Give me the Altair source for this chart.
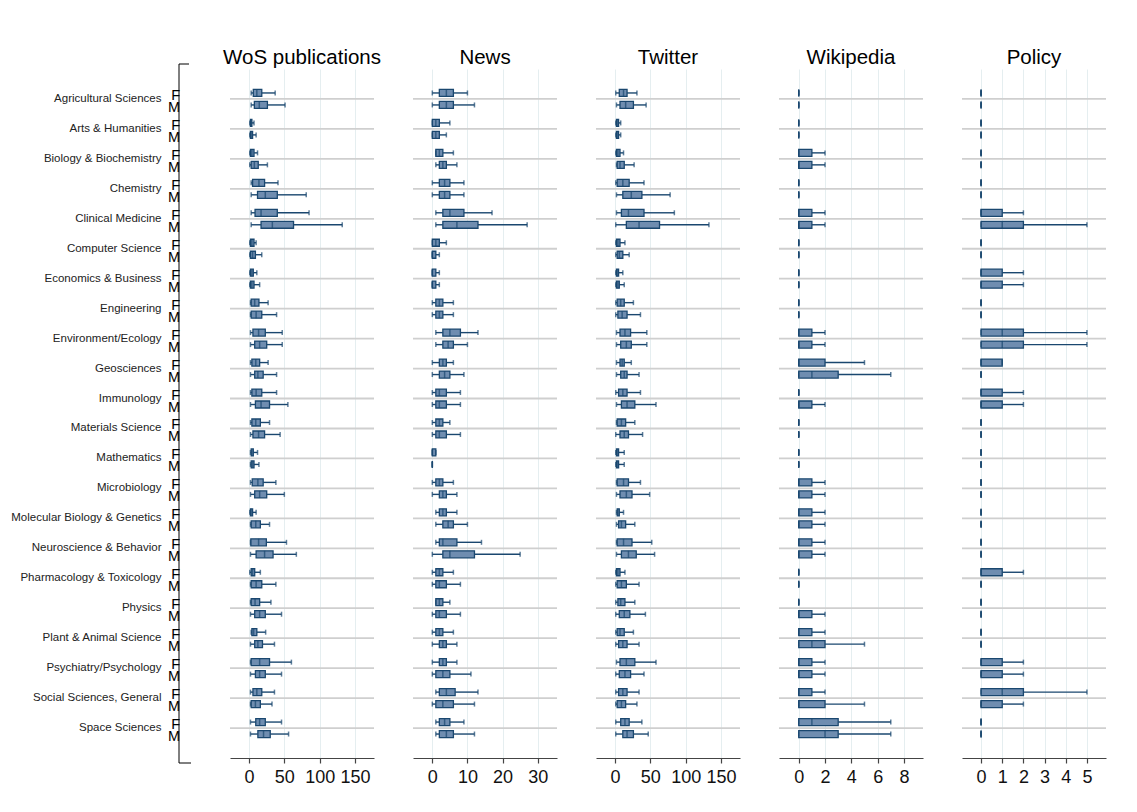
import altair as alt
import pandas as pd

fields = ["Agricultural Sciences", "Arts & Humanities", "Biology & Biochemistry", "Chemistry",
          "Clinical Medicine", "Computer Science", "Economics & Business", "Engineering",
          "Environment/Ecology", "Geosciences", "Immunology", "Materials Science", "Mathematics",
          "Microbiology", "Molecular Biology & Genetics", "Neuroscience & Behavior",
          "Pharmacology & Toxicology", "Physics", "Plant & Animal Science",
          "Psychiatry/Psychology", "Social Sciences, General", "Space Sciences"]
genders = ["F", "M"]
panel_titles = ["WoS publications", "News", "Twitter", "Wikipedia", "Policy"]

# (lower adjacent, q1, median, q3, upper adjacent); per field: F then M
WOS = [
    (3, 6, 11, 18, 37), (3, 7.5, 14.5, 26, 51),
    (1, 2, 3, 4, 7), (1, 2, 3, 5, 10),
    (1, 2, 4, 7, 12), (1, 3, 7.5, 13, 26),
    (3, 5, 14, 22, 41), (3, 12, 23, 40, 81),
    (3, 8.5, 17, 40, 85), (3, 17, 33, 63, 132),
    (1, 2, 4, 7, 10), (1, 2, 5, 9, 18),
    (1, 2, 4, 6, 11), (1, 2, 4, 7, 15),
    (2, 3, 8, 14, 27), (2, 3, 10, 18, 39),
    (2, 5.5, 13.5, 23, 47), (2, 8, 15, 25, 47),
    (2, 4, 9.5, 15, 27), (2, 8, 12.5, 20, 39),
    (2, 4, 10, 18, 39), (2, 9, 17, 29, 55),
    (2, 4, 9.5, 16, 29), (2, 5.5, 13.5, 22, 44),
    (2, 3, 4, 6, 12), (2, 3, 5, 7, 14),
    (2, 4.5, 12.5, 20, 38), (2, 8, 15, 25, 50),
    (1, 2, 3, 5, 10), (2, 3, 9.5, 16, 29),
    (2, 2.5, 13.5, 24.5, 53), (2, 10, 22, 34, 67),
    (1, 3, 5, 8, 16), (2, 3, 10, 18, 38),
    (2, 3, 8.5, 15, 31), (2, 8, 15, 23, 46),
    (3, 4, 6.5, 11, 23.5), (2, 8, 12.5, 19, 36),
    (2, 3, 15, 29, 60), (2, 9, 15, 23, 46),
    (2, 5.5, 11, 18, 36), (2, 3, 9, 16, 32.5),
    (2, 9.5, 15, 23, 46), (2, 12.5, 20.5, 30, 56),
]
NEWS = [
    (0, 2, 4, 6, 10), (0, 2, 4, 6, 12),
    (0, 0, 1, 2, 5), (0, 0, 1, 2, 4),
    (1, 1, 2, 3, 6), (1, 2, 3, 4, 7),
    (0, 2, 3.5, 5, 9), (0, 2, 3.5, 5, 9),
    (1, 3, 5, 9, 17), (1, 3, 7, 13, 27),
    (0, 0, 1, 2, 4), (0, 0, 0, 1, 2),
    (0, 0, 0, 1, 2), (0, 0, 0, 1, 2),
    (0, 1, 2, 3, 6), (0, 1, 2, 3, 6),
    (1, 3, 5, 8, 13), (1, 3, 4.5, 6, 10),
    (0, 2, 3, 4, 6), (0, 2, 3.5, 5, 9),
    (0, 1, 2, 4, 8), (0, 1, 2, 4, 8),
    (0, 1, 2, 3, 5), (0, 1, 2, 4, 8),
    (0, 0, 0, 1, 1), (0, 0, 0, 0, 0),
    (0, 1, 2, 3, 6), (0, 2, 3, 4, 7),
    (1, 2, 3, 4, 7), (1, 3, 4.5, 6, 10),
    (1, 2, 3, 7, 14), (0, 3, 5, 12, 25),
    (0, 1, 2, 3, 6), (0, 1, 2, 4, 8),
    (1, 1, 2, 3, 5), (0, 1, 2, 4, 8),
    (0, 1, 2, 3, 6), (0, 2, 3, 4, 7),
    (0, 2, 3, 4, 7), (0, 1, 3, 5, 11),
    (1, 2, 4, 6.5, 13), (0, 1, 3, 6, 12),
    (1, 2, 3.5, 5, 9), (1, 2, 4, 6, 12),
]
TWITTER = [
    (1, 6, 12, 17, 31), (2, 7, 15, 26, 44),
    (1, 2, 3, 5, 8), (1, 2, 3, 5, 8),
    (1, 2, 4, 7, 12), (2, 3, 7, 13, 27),
    (1, 3, 11, 20, 41), (2, 11, 23, 38, 78),
    (2, 9, 19, 41, 84), (1, 16, 34, 63, 133),
    (1, 2, 4, 7, 14), (1, 3, 6, 11, 20),
    (1, 2, 3, 5, 11), (1, 2, 4, 6, 13),
    (1, 3, 8, 13, 26), (1, 4, 10, 17, 36),
    (2, 7, 14, 22, 45), (2, 8, 16, 23, 45),
    (2, 7, 10, 13, 23), (2, 8, 13, 17, 34),
    (1, 5, 11, 17, 36), (2, 9, 17, 28, 58),
    (2, 3, 9, 15, 28), (1, 7, 13, 19, 39),
    (1, 2, 3, 5, 13), (1, 2, 3, 5, 13),
    (2, 3, 12, 19, 36), (2, 7, 16, 24, 49),
    (2, 3, 4, 6, 12), (2, 5, 9, 15, 28),
    (2, 3, 12, 24, 52), (2, 9, 19, 30, 56),
    (1, 2, 4, 7, 14), (1, 3, 9, 16, 34),
    (1, 4, 8, 14, 28), (1, 6, 13, 21, 43),
    (1, 3, 7, 13, 26), (1, 5, 11, 17, 34),
    (2, 7, 16, 28, 58), (1, 6, 14, 22, 41),
    (1, 5, 11, 17, 34), (1, 3, 9, 15, 31),
    (1, 8, 14, 20, 38), (1, 11, 17, 26, 47),
]
WIKI = [
    (0, 0, 0, 0, 0), (0, 0, 0, 0, 0),
    (0, 0, 0, 0, 0), (0, 0, 0, 0, 0),
    (0, 0, 0, 1, 2), (0, 0, 0, 1, 2),
    (0, 0, 0, 0, 0), (0, 0, 0, 0, 0),
    (0, 0, 0, 1, 2), (0, 0, 0, 1, 2),
    (0, 0, 0, 0, 0), (0, 0, 0, 0, 0),
    (0, 0, 0, 0, 0), (0, 0, 0, 0, 0),
    (0, 0, 0, 0, 0), (0, 0, 0, 0, 0),
    (0, 0, 0, 1, 2), (0, 0, 0, 1, 2),
    (0, 0, 0, 2, 5), (0, 0, 1, 3, 7),
    (0, 0, 0, 0, 0), (0, 0, 0, 1, 2),
    (0, 0, 0, 0, 0), (0, 0, 0, 0, 0),
    (0, 0, 0, 0, 0), (0, 0, 0, 0, 0),
    (0, 0, 0, 1, 2), (0, 0, 0, 1, 2),
    (0, 0, 0, 1, 2), (0, 0, 0, 1, 2),
    (0, 0, 0, 1, 2), (0, 0, 0, 1, 2),
    (0, 0, 0, 0, 0), (0, 0, 0, 0, 0),
    (0, 0, 0, 0, 0), (0, 0, 0, 1, 2),
    (0, 0, 0, 1, 2), (0, 0, 1, 2, 5),
    (0, 0, 0, 1, 2), (0, 0, 0, 1, 2),
    (0, 0, 0, 1, 2), (0, 0, 0, 2, 5),
    (0, 0, 1, 3, 7), (0, 0, 2, 3, 7),
]
POLICY = [
    (0, 0, 0, 0, 0), (0, 0, 0, 0, 0),
    (0, 0, 0, 0, 0), (0, 0, 0, 0, 0),
    (0, 0, 0, 0, 0), (0, 0, 0, 0, 0),
    (0, 0, 0, 0, 0), (0, 0, 0, 0, 0),
    (0, 0, 0, 1, 2), (0, 0, 1, 2, 5),
    (0, 0, 0, 0, 0), (0, 0, 0, 0, 0),
    (0, 0, 0, 1, 2), (0, 0, 0, 1, 2),
    (0, 0, 0, 0, 0), (0, 0, 0, 0, 0),
    (0, 0, 1, 2, 5), (0, 0, 1, 2, 5),
    (0, 0, 0, 1, 1), (0, 0, 0, 0, 0),
    (0, 0, 0, 1, 2), (0, 0, 0, 1, 2),
    (0, 0, 0, 0, 0), (0, 0, 0, 0, 0),
    (0, 0, 0, 0, 0), (0, 0, 0, 0, 0),
    (0, 0, 0, 0, 0), (0, 0, 0, 0, 0),
    (0, 0, 0, 0, 0), (0, 0, 0, 0, 0),
    (0, 0, 0, 0, 0), (0, 0, 0, 0, 0),
    (0, 0, 0, 1, 2), (0, 0, 0, 0, 0),
    (0, 0, 0, 0, 0), (0, 0, 0, 0, 0),
    (0, 0, 0, 0, 0), (0, 0, 0, 0, 0),
    (0, 0, 0, 1, 2), (0, 0, 0, 1, 2),
    (0, 0, 1, 2, 5), (0, 0, 0, 1, 2),
    (0, 0, 0, 0, 0), (0, 0, 0, 0, 0),
]
x_domains = [[-27, 177], [-5.5, 35.5], [-27, 177], [-1.5, 9.45], [-0.9, 5.9]]
x_ticks = [[0, 50, 100, 150], [0, 10, 20, 30], [0, 50, 100, 150], [0, 2, 4, 6, 8], [0, 1, 2, 3, 4, 5]]

FONT = "Liberation Sans"
NAVY = "#1a476f"
BOX_FILL = "#6f8db0"
PW, PH = 144, 689

rows = []
for title, data in zip(panel_titles, [WOS, NEWS, TWITTER, WIKI, POLICY]):
    for i, (lo, q1, med, q3, hi) in enumerate(data):
        rows.append(dict(panel=title, field=fields[i // 2], gender=genders[i % 2],
                         lo=lo, q1=q1, med=med, q3=q3, hi=hi))
df = pd.DataFrame(rows)
fields_df = pd.DataFrame({"field": fields})
lab_df = pd.DataFrame([(f, g) for f in fields for g in genders], columns=["field", "gender"])

yscale = alt.Scale(domain=fields, paddingInner=0, paddingOuter=0.5)
oscale = alt.Scale(domain=genders, paddingInner=0.417, paddingOuter=0.458)


def Y(axis=None):
    return alt.Y("field:N", sort=fields, scale=yscale, axis=axis, title=None)


def YO():
    return alt.YOffset("gender:N", sort=genders, scale=oscale)


def panel(title, dom, ticks):
    d = df[df.panel == title]
    xs = alt.Scale(domain=dom, nice=False, zero=False)
    xax = alt.Axis(values=ticks, grid=True, gridColor="#e5eef0", gridWidth=1,
                   domainColor="#444", domainWidth=1.2, tickColor="#444", tickSize=5,
                   tickWidth=1.2, labelFontSize=18, labelFont=FONT, labelColor="#111",
                   labelPadding=5, title=None, labelFlush=False, labelOverlap=False)

    def X(f):
        return alt.X(f, scale=xs, axis=xax, title=None)

    base = alt.Chart(d).encode(y=Y(), yOffset=YO())
    sep = alt.Chart(fields_df).mark_rule(color="#cfcfcf", strokeWidth=1.8).encode(
        y=Y(), x=alt.value(0), x2=alt.value(PW))
    low = base.mark_rule(color=NAVY, strokeWidth=1.4).encode(x=X("lo:Q"), x2="q1:Q")
    high = base.mark_rule(color=NAVY, strokeWidth=1.4).encode(x=X("q3:Q"), x2="hi:Q")
    box = base.mark_bar(fill=BOX_FILL, stroke=NAVY, strokeWidth=1.3).encode(
        x=X("q1:Q"), x2="q3:Q")
    med = base.mark_tick(color=NAVY, size=7, thickness=1.5).encode(x=X("med:Q"))
    cap_lo = base.mark_tick(color=NAVY, size=5, thickness=1.5).encode(x=X("lo:Q"))
    cap_hi = base.mark_tick(color=NAVY, size=5, thickness=1.5).encode(x=X("hi:Q"))
    return alt.layer(sep, low, high, box, med, cap_lo, cap_hi).properties(
        width=PW, height=PH,
        title=alt.TitleParams(title, fontSize=20.5, font=FONT, fontWeight="normal",
                              color="#000", offset=1, anchor="middle"))


one = pd.DataFrame({"a": [0]})
LW = 26
labels = alt.Chart(lab_df).mark_text(align="right", baseline="middle", fontSize=14.5,
                                     font=FONT, color="#000", dy=3).encode(
    y=Y(alt.Axis(labelFontSize=11.5, labelFont=FONT, labelColor="#222", ticks=False,
                 domain=False, labelPadding=4, labelLimit=0, grid=False)),
    yOffset=YO(), x=alt.value(15), text="gender:N")
vline = alt.Chart(one).mark_rule(color="#000", strokeWidth=1).encode(
    x=alt.value(14), y=alt.value(-5), y2=alt.value(PH + 5))
ttop = alt.Chart(one).mark_rule(color="#000", strokeWidth=1).encode(
    x=alt.value(14), x2=alt.value(24), y=alt.value(-5))
tbot = alt.Chart(one).mark_rule(color="#000", strokeWidth=1).encode(
    x=alt.value(14), x2=alt.value(26), y=alt.value(PH + 5))
label_chart = alt.layer(labels, vline, ttop, tbot).properties(
    width=LW, height=PH, title=alt.TitleParams(" ", fontSize=20.5, offset=1))

panels = [panel(t, d, tk) for t, d, tk in zip(panel_titles, x_domains, x_ticks)]

chart = alt.hconcat(label_chart, *panels, spacing=39, bounds="flush").resolve_scale(
    x="independent").properties(
    padding={"left": 2, "top": 34, "right": 5, "bottom": 5},
    background="white",
).configure_view(stroke=None)

chart.save("out.html", embed_options={"renderer": "svg", "actions": False})
